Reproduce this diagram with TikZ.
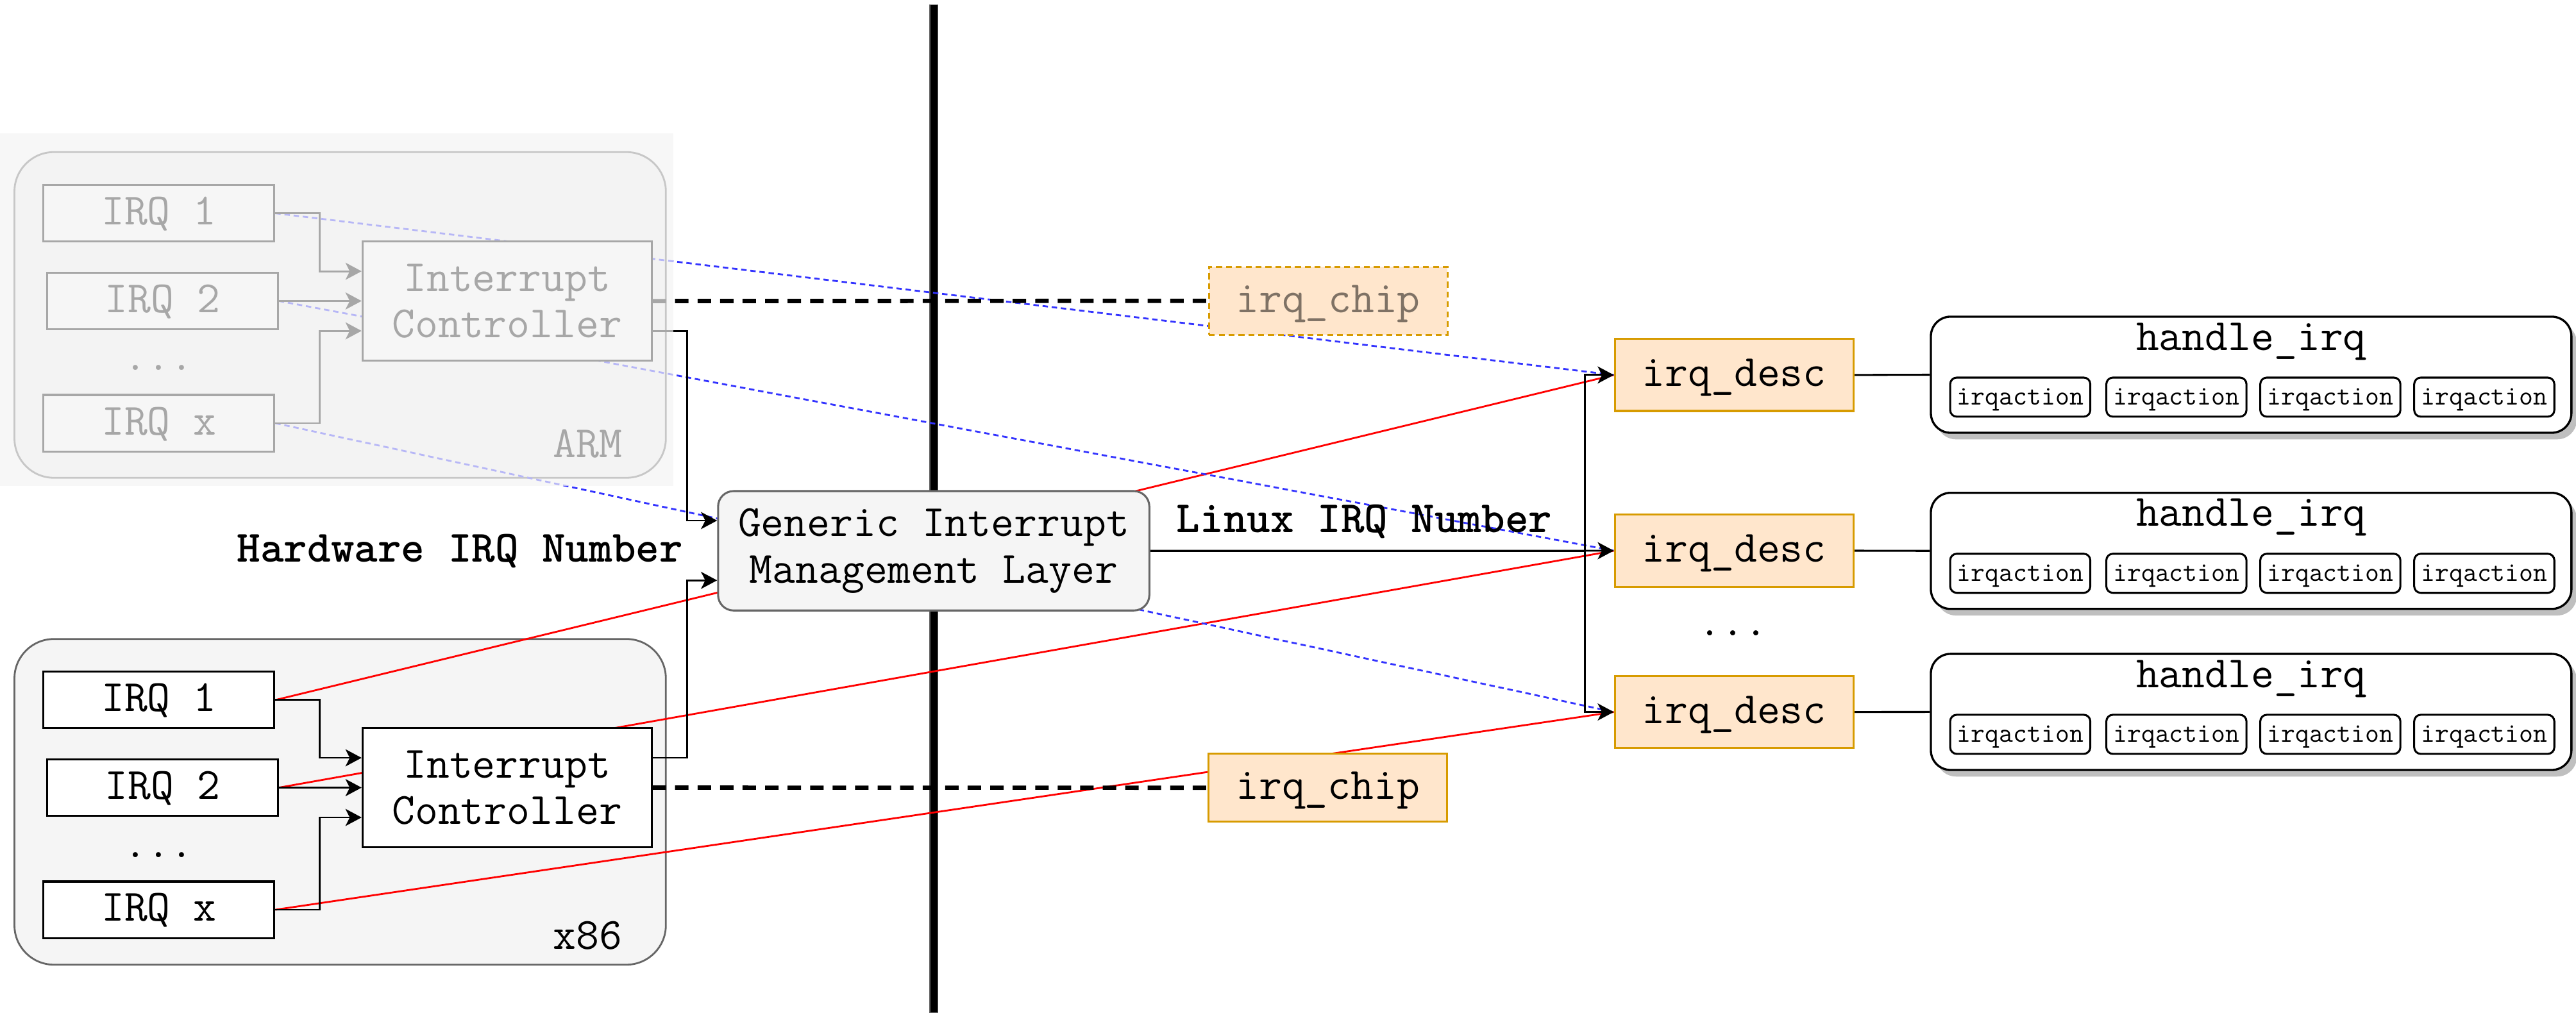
\documentclass[tikz,border=0pt]{standalone}
\usepackage{fontspec}
\usetikzlibrary{arrows.meta,shadows,calc}
\pgfdeclarelayer{bgzero}
\pgfdeclarelayer{bgone}
\pgfdeclarelayer{fg}
\pgfsetlayers{bgzero,bgone,main,fg}
\definecolor{boxgray}{HTML}{F5F5F5}
\definecolor{edgegray}{HTML}{666666}
\definecolor{descfill}{HTML}{FFE6CC}
\definecolor{descline}{HTML}{D79B00}
\definecolor{blueline}{HTML}{3333FF}
\definecolor{veil}{HTML}{F3F3F3}
\tikzset{
  mainfont/.style={font=\fontsize{27.2}{28.3}\selectfont\ttfamily},
  boldfont/.style={font=\fontsize{27.2}{28.3}\selectfont\ttfamily\bfseries},
  smallfont/.style={font=\fontsize{16.6}{18}\selectfont\ttfamily},
  oneline/.style={text height=14pt, text depth=0pt},
  irqbox/.style={draw, line width=1.2pt, fill=white, minimum width=140.5pt, minimum height=34.4pt, inner sep=0pt, mainfont, oneline},
  icbox/.style={draw, line width=1.2pt, fill=white, minimum width=175.9pt, minimum height=72.7pt, inner sep=0pt, mainfont, align=center},
  contbox/.style={draw=edgegray, line width=1.1pt, fill=boxgray, rounded corners=24pt, minimum width=396.5pt, minimum height=198.3pt, inner sep=0pt},
  gbox/.style={draw=edgegray, line width=1.2pt, fill=boxgray, rounded corners=9.4pt, minimum width=262.5pt, minimum height=72.7pt, inner sep=0pt, mainfont, align=center},
  chipbox/.style={draw=descline, line width=1.1pt, fill=descfill, minimum width=145.3pt, minimum height=41.4pt, inner sep=0pt, mainfont, oneline},
  descbox/.style={draw=descline, line width=1.2pt, fill=descfill, minimum width=145.3pt, minimum height=43.8pt, inner sep=0pt, mainfont, oneline},
  hbox/.style={draw, line width=1.3pt, fill=white, rounded corners=12pt, minimum width=389.9pt, minimum height=70.7pt, inner sep=0pt,
    general shadow={fill=black!25, shadow xshift=3.3pt, shadow yshift=-4pt}},
  actbox/.style={draw, line width=1.2pt, fill=white, rounded corners=4pt, minimum width=85.3pt, minimum height=23.8pt, inner sep=0pt, smallfont, text height=9.2pt, text depth=0pt},
  conn/.style={line width=1.1pt, -{Stealth[length=9.8pt,width=10.4pt,inset=2.6pt]}},
  plainline/.style={line width=1.2pt},
  redline/.style={line width=1.1pt, draw=red},
  bluedash/.style={line width=1.1pt, draw=blueline, dash pattern=on 3.3pt off 2.3pt},
  thickdash/.style={line width=2.6pt, dash pattern=on 8.2pt off 5.5pt},
  plainlabel/.style={inner sep=0pt},
}
\begin{document}
\begin{tikzpicture}[x=1pt,y=-1pt]
\useasboundingbox (0,0) rectangle (1568,621);

% containers and separator
\begin{pgfonlayer}{bgzero}
\node[contbox] (armbox) at (207.05,191.75) {};
\node[contbox] (x86box) at (207.05,488.2) {};
\fill[black] (566,2.9) rectangle (571,616.4);
\draw[edgegray, line width=0.5pt] (566,2.9) rectangle (571,616.4);
\end{pgfonlayer}

% ARM side
\node[irqbox] (a1) at (96.75,129.85) {IRQ 1};
\node[irqbox] (a2) at (98.85,183.25) {IRQ 2};
\node[irqbox] (ax) at (96.75,257.65) {IRQ x};
\node[mainfont, plainlabel, anchor=base] (adots) at (96.5,225.5) {...};
\node[icbox] (aic) at (308.65,183.3) {Interrupt\\Controller};
\node[mainfont, plainlabel, anchor=base east] (armlabel) at (379,278.5) {ARM};

% x86 side
\node[irqbox] (x1) at (96.75,426.2) {IRQ 1};
\node[irqbox] (x2) at (98.85,479.55) {IRQ 2};
\node[irqbox] (xx) at (96.75,553.9) {IRQ x};
\node[mainfont, plainlabel, anchor=base] (xdots) at (96.5,522) {...};
\node[icbox] (xic) at (308.65,479.55) {Interrupt\\Controller};
\node[mainfont, plainlabel, anchor=base east] (x86label) at (379,577.7) {x86};

% middle
\node[gbox] (gim) at (568.35,335.35) {Generic Interrupt\\Management Layer};
\node[boldfont, plainlabel, anchor=base] (hwlabel) at (280,342) {Hardware IRQ Number};
\node[boldfont, plainlabel, anchor=base] (lxlabel) at (830.5,324) {Linux IRQ Number};
\node[chipbox, dash pattern=on 3.6pt off 2.4pt, text opacity=0.5] (achip) at (808.5,183.15) {irq\_chip};
\node[chipbox] (xchip) at (808.3,479.6) {irq\_chip};

% irq_desc
\node[descbox] (d1) at (1055.55,228.3) {irq\_desc};
\node[descbox] (d2) at (1055.55,335.3) {irq\_desc};
\node[descbox] (d3) at (1055.55,433.5) {irq\_desc};
\node[mainfont, plainlabel, anchor=base] (ddots) at (1055,387) {...};

% handle_irq
\foreach \r/\cy in {1/228.15, 2/335.4, 3/433.45} {
  \node[hbox] (h\r) at (1370.25,\cy) {};
  \node[mainfont, plainlabel, anchor=base] (h\r t) at ($(h\r.north)+(0,21)$) {handle\_irq};
  \foreach \k/\cx in {1/1229.7, 2/1324.75, 3/1418.45, 4/1512.15} {
    \node[actbox] (h\r a\k) at (\cx,\cy+13.65) {irqaction};
  }
}

% connectors
\begin{pgfonlayer}{bgone}
% red mappings (x86)
\draw[redline] (x1.east) -- (d1.west);
\draw[redline] (x2.east) -- (d2.west);
\draw[redline] (xx.east) -- (d3.west);
% blue mappings (ARM)
\draw[bluedash] (a1.east) -- (d1.west);
\draw[bluedash] (a2.east) -- (d2.west);
\draw[bluedash] (ax.east) -- (d3.west);
% IRQ -> controller
\draw[conn] (a1.east) -- ++(27,0) |- ([yshift=18.15pt]aic.west);
\draw[conn] (a2.east) -- (a2.east -| aic.west);
\draw[conn] (ax.east) -- ++(27,0) |- ([yshift=-18.15pt]aic.west);
\draw[conn] (x1.east) -- ++(27,0) |- ([yshift=18.15pt]xic.west);
\draw[conn] (x2.east) -- (x2.east -| xic.west);
\draw[conn] (xx.east) -- ++(27,0) |- ([yshift=-18.15pt]xic.west);
% controller -> generic layer
\draw[conn] ([yshift=-18.15pt]aic.east) -- ++(21,0) |- ([yshift=18.4pt]gim.west);
\draw[conn] ([yshift=18.15pt]xic.east) -- ++(21,0) |- ([yshift=-18pt]gim.west);
% controller .. irq_chip
\draw[thickdash] (aic.east) -- (achip.west);
\draw[thickdash] (xic.east) -- (xchip.west);
% generic layer -> irq_desc
\draw[conn] (gim.east) -- (d2.west);
\draw[conn] (gim.east) -- ++(264.6,0) |- (d1.west);
\draw[conn] (gim.east) -- ++(264.6,0) |- (d3.west);
% irq_desc -- handle_irq
\draw[plainline] (d1.east) -- (h1.west);
\draw[plainline] (d2.east) -- (h2.west);
\draw[plainline] (d3.east) -- (h3.west);
\end{pgfonlayer}

% veil over the ARM part
\begin{pgfonlayer}{fg}
\fill[veil, opacity=0.69] (0,81) rectangle (410,296);
\end{pgfonlayer}
\end{tikzpicture}
\end{document}
